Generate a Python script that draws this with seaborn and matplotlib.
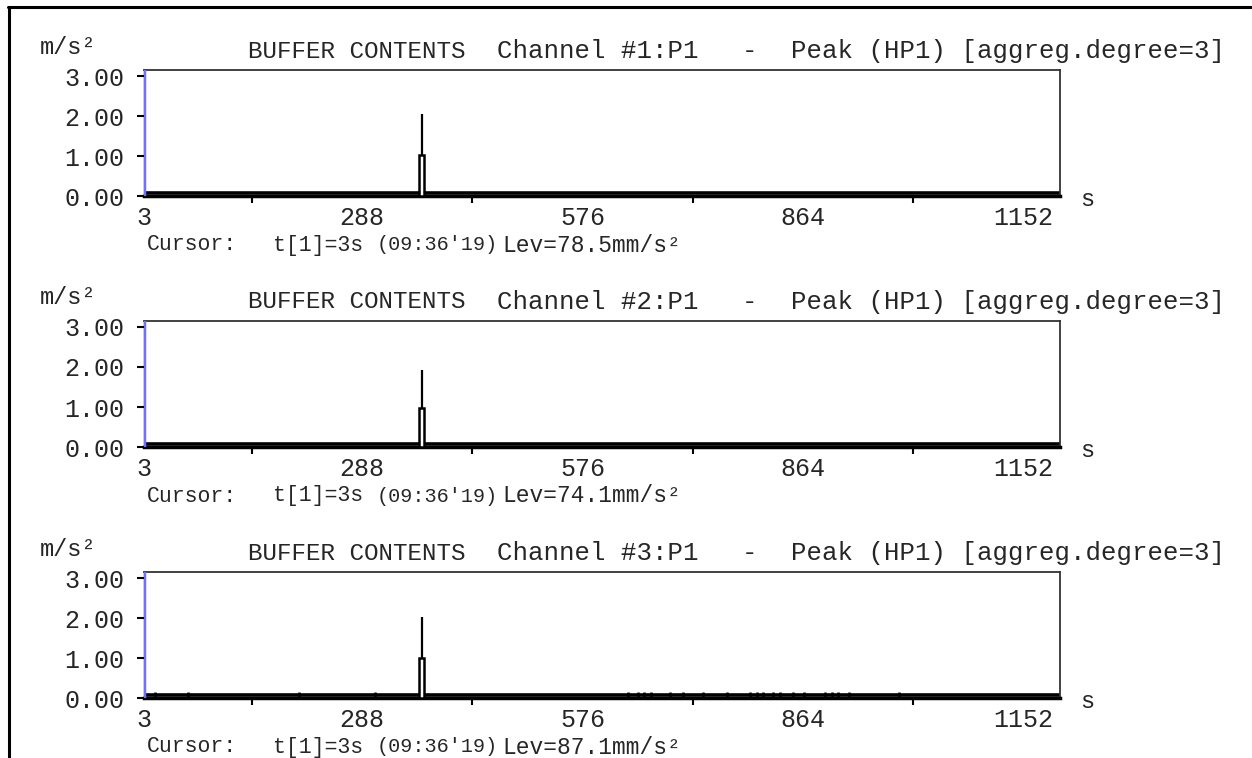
import matplotlib
matplotlib.use("Agg")
import matplotlib.pyplot as plt
import seaborn as sns
import pandas as pd

# ------------------------------------------------------
# DATA
channels = ["#1:P1", "#2:P1", "#3:P1"]
cursor_time = 3                      # s
cursor_clock = "09:36'19"
cursor_level_mm = [78.5, 74.1, 87.1]  # mm/s^2 at the cursor
t_range = [3, 1200]                  # s
peak_time = [366, 366, 366]          # s
peak_avg = [1.02, 0.97, 1.01]        # m/s^2
peak_max = [2.05, 1.92, 2.02]        # m/s^2
ch3_blip_times = [18, 60, 206, 305, 635, 649, 656, 665, 691, 707, 733, 765,
                  795, 804, 812, 825, 834, 851, 865, 893, 902, 910, 924, 989]
ch3_blip_level = 0.14
x_major = [3, 288, 576, 864, 1152]
x_minor = [144, 432, 720, 1008]
y_ticks = [0, 1, 2, 3]

# ------------------------------------------------------
W, H = 1252, 758
sns.set_style("white")
plt.rcParams['font.family'] = ['Liberation Mono', 'DejaVu Sans Mono']
FS_TICK = 18
FS_TITLE = 18.5
FS_CUR = 15.5

fig = plt.figure(figsize=(W / 100, H / 100), dpi=100)
fig.patch.set_facecolor("white")


def fx(px):
    return px / W


def fy(py):
    return 1 - py / H


# screenshot frame (top and left edge only)
fig.add_artist(plt.Line2D([fx(8), 1], [fy(7), fy(7)], color="black", lw=2.2))
fig.add_artist(plt.Line2D([fx(9), fx(9)], [fy(7), 0], color="black", lw=2.2))

for k, ch in enumerate(channels):
    off = 251 * k
    left, right, top, bottom = 144, 1060, 70 + off, 196 + off
    ax = fig.add_axes([fx(left), fy(bottom), fx(right - left), (bottom - top) / H])

    # baseline trace (values sit right on the axis)
    base = pd.DataFrame({"t": t_range, "lev": [cursor_level_mm[k] / 1000] * 2})
    sns.lineplot(data=base, x="t", y="lev", ax=ax, color="black", lw=2.6)

    # aggregated peak: white box + max whisker
    ax.bar([peak_time[k]], [peak_avg[k]], width=6, color="white",
           edgecolor="black", linewidth=1.8, zorder=3)
    ax.vlines(peak_time[k], peak_avg[k], peak_max[k], color="black", lw=1.6, zorder=3)

    if k == 2:
        ax.vlines(ch3_blip_times, 0, ch3_blip_level, color="black", lw=1.8)

    # cursor
    ax.axvline(cursor_time, color="#7070ff", lw=2.5, zorder=4)

    ax.set_xlim(t_range[0], t_range[1])
    ax.set_ylim(0, 3.15)
    ax.set_xticks(x_major)
    ax.set_xticks(x_minor, minor=True)
    ax.set_yticks(y_ticks)
    ax.set_yticklabels([f"{v:.2f}" for v in y_ticks])
    ax.tick_params(axis="x", which="major", direction="out", length=7, width=1.5,
                   labelsize=FS_TICK, pad=0, color="black")
    ax.tick_params(axis="x", which="minor", direction="out", length=5, width=1.5,
                   color="black", bottom=True)
    ax.tick_params(axis="y", direction="out", length=5, width=1.5, labelsize=FS_TICK,
                   pad=9, color="black", left=True)
    ax.set_xlabel("")
    ax.set_ylabel("")
    for s in ["top", "right"]:
        ax.spines[s].set_color("#333333")
        ax.spines[s].set_linewidth(1.3)
    ax.spines["left"].set_color("black")
    ax.spines["left"].set_linewidth(1.0)
    ax.spines["bottom"].set_color("black")
    ax.spines["bottom"].set_linewidth(2.5)

    # header texts
    fig.text(fx(40), fy(47 + off), "m/s²", fontsize=17, va="center", ha="left")
    fig.text(fx(248), fy(51 + off), "BUFFER CONTENTS", fontsize=17.5, va="center")
    fig.text(fx(497), fy(51 + off), "Channel " + ch, fontsize=FS_TITLE, va="center")
    fig.text(fx(742), fy(51 + off), "-", fontsize=FS_TITLE, va="center")
    fig.text(fx(791), fy(51 + off), "Peak (HP1) [aggreg.degree=3]", fontsize=FS_TITLE, va="center")
    fig.text(fx(1080), fy(199 + off), "s", fontsize=17, va="center")

    # cursor readout
    fig.text(fx(147), fy(245 + off), "Cursor:", fontsize=FS_CUR, va="center")
    fig.text(fx(273), fy(245 + off), f"t[1]={cursor_time}s", fontsize=FS_CUR, va="center")
    fig.text(fx(377), fy(245 + off), f"({cursor_clock})", fontsize=14.5, va="center")
    fig.text(fx(502), fy(245 + off), f"Lev={cursor_level_mm[k]}mm/s²", fontsize=16.5, va="center")

fig.savefig("out.png", dpi=100, facecolor="white")
